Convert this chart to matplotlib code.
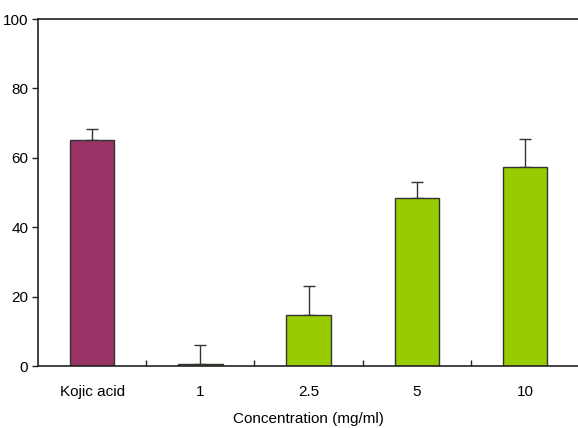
import matplotlib
matplotlib.use("Agg")
import matplotlib.pyplot as plt
import numpy as np

categories = ["Kojic acid", "1", "2.5", "5", "10"]
values = [65.0, 0.6, 14.7, 48.3, 57.4]
errors = [3.2, 5.4, 8.4, 4.6, 8.0]
colors = ["#993366", "#99CC00", "#99CC00", "#99CC00", "#99CC00"]
yticks = [0, 20, 40, 60, 80, 100]

plt.rcParams['font.family'] = ['Liberation Sans', 'DejaVu Sans']
fig = plt.figure(figsize=(5.78, 4.28), dpi=100)
ax = fig.add_axes([38/578, 62/428, 1 - 38/578 + 0.002, (366-19)/428])

x = np.arange(len(categories))
ax.bar(x, values, width=0.41, color=colors, edgecolor="#333333", linewidth=1.0, zorder=2)
ax.errorbar(x, values, yerr=[np.zeros(len(errors)), errors], fmt="none",
            ecolor="#333333", elinewidth=1.0, capsize=4, capthick=1.0, zorder=1)

ax.set_xlim(-0.5, len(categories) - 0.5)
ax.set_ylim(0, 100)
ax.set_yticks(yticks)
ax.set_yticklabels([str(v) for v in yticks], fontsize=11)
ax.set_xticks(x)
ax.set_xticklabels(categories, fontsize=11)
ax.tick_params(axis="x", length=0, pad=14)
ax.set_xticks(np.arange(0.5, len(categories) - 0.5, 1.0), minor=True)
ax.tick_params(axis="x", which="minor", direction="in", length=4, width=1, color="#222222")
ax.tick_params(axis="y", direction="out", length=4, width=1, pad=3, color="#222222")
ax.spines["right"].set_visible(False)
for s in ["left", "bottom", "top"]:
    ax.spines[s].set_linewidth(1.2)
    ax.spines[s].set_color("#222222")
ax.set_xlabel("Concentration (mg/ml)", fontsize=11, labelpad=9)

fig.savefig("out.png", dpi=100)
